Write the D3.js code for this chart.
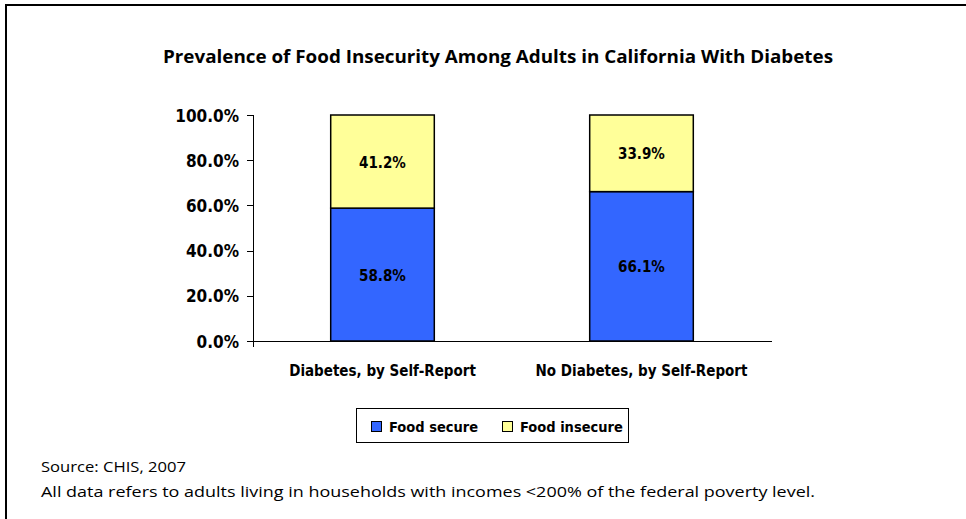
<!DOCTYPE html>
<html lang="en">
<head>
<meta charset="utf-8">
<title>Food Insecurity Among Adults With Diabetes</title>
<script src="https://cdn.jsdelivr.net/npm/d3@7"></script>
<style>
  body { margin: 0; background: #fff; }
  .axis path, .axis line { stroke: #000; stroke-width: 1px; shape-rendering: crispEdges; }
  .axis text { font-family: "DejaVu Sans Condensed", "DejaVu Sans", sans-serif; font-stretch: condensed; font-weight: bold; font-size: 17px; fill: #000; }
  .bold { font-family: "DejaVu Sans Condensed", "DejaVu Sans", sans-serif; font-stretch: condensed; font-weight: bold; fill: #000; }
  .note { font-family: "Open Sans", sans-serif; font-size: 14px; fill: #000; }
</style>
</head>
<body>
<script>
// data
var categories = ["Diabetes, by Self-Report", "No Diabetes, by Self-Report"];
var secure = [0.588, 0.661];
var insecure = [0.412, 0.339];
var seriesNames = ["Food secure", "Food insecure"];
var yTicks = [0, 0.2, 0.4, 0.6, 0.8, 1.0];

var w = 966, h = 519;
var colors = ["#3366ff", "#ffff99"];

var svg = d3.select("body").append("svg")
  .attr("width", w)
  .attr("height", h);

// outer frame (runs off right/bottom like the original)
svg.append("rect")
  .attr("x", 6).attr("y", 5)
  .attr("width", 1000).attr("height", 600)
  .attr("fill", "none")
  .attr("stroke", "#000")
  .attr("stroke-width", 2);

svg.append("text")
  .attr("x", 498).attr("y", 63)
  .attr("text-anchor", "middle")
  .attr("textLength", 670)
  .attr("lengthAdjust", "spacingAndGlyphs")
  .style("font-family", "'Open Sans', sans-serif")
  .style("font-weight", "bold")
  .style("font-size", "18px")
  .text("Prevalence of Food Insecurity Among Adults in California With Diabetes");

var plotLeft = 253, plotRight = 771, plotTop = 115, plotBottom = 341;

var x = d3.scaleBand()
  .domain(categories)
  .range([plotLeft, plotRight])
  .paddingInner(0.6)
  .paddingOuter(0.3);

var y = d3.scaleLinear()
  .domain([0, 1])
  .range([plotBottom, plotTop]);

var stackData = categories.map(function(c, i) {
  return { cat: c, secure: secure[i], insecure: insecure[i] };
});
var stack = d3.stack().keys(["secure", "insecure"]);
var layers = stack(stackData);

var bars = svg.append("g");
layers.forEach(function(layer, li) {
  bars.selectAll(".s" + li)
    .data(layer)
    .enter()
    .append("rect")
    .attr("x", function(d) { return x(d.data.cat); })
    .attr("y", function(d) { return y(d[1]); })
    .attr("width", x.bandwidth())
    .attr("height", function(d) { return y(d[0]) - y(d[1]); })
    .attr("fill", colors[li])
    .attr("stroke", "#000")
    .attr("stroke-width", 1.5);

  bars.selectAll(".l" + li)
    .data(layer)
    .enter()
    .append("text")
    .attr("class", "bold")
    .attr("x", function(d) { return x(d.data.cat) + x.bandwidth() / 2; })
    .attr("y", function(d) { return (y(d[0]) + y(d[1])) / 2 + 6; })
    .attr("text-anchor", "middle")
    .style("font-size", "15px")
    .text(function(d) { return d3.format(".1%")(d[1] - d[0]); });
});

// y axis
var yAxis = d3.axisLeft(y)
  .tickValues(yTicks)
  .tickFormat(d3.format(".1%"))
  .tickSize(6)
  .tickSizeOuter(0);
var gy = svg.append("g")
  .attr("class", "axis")
  .attr("transform", "translate(" + plotLeft + ",0)")
  .call(yAxis);
gy.selectAll("text").attr("x", -14).attr("dy", "0.36em");
gy.select(".domain").attr("d", "M0," + plotTop + "V" + (plotBottom + 6));

// x axis
var xAxis = d3.axisBottom(x).tickSize(0).tickSizeOuter(0);
var gx = svg.append("g")
  .attr("class", "axis")
  .attr("transform", "translate(0," + plotBottom + ")")
  .call(xAxis);
gx.selectAll("text").attr("y", 24).style("font-size", "15px");

// legend
var legend = svg.append("g");
legend.append("rect")
  .attr("x", 356.5).attr("y", 408.5)
  .attr("width", 272).attr("height", 34)
  .attr("fill", "#fff")
  .attr("stroke", "#000")
  .attr("stroke-width", 1);
var legX = [371, 502];
seriesNames.forEach(function(name, i) {
  legend.append("rect")
    .attr("x", legX[i] + 0.5).attr("y", 421.5)
    .attr("width", 10).attr("height", 10)
    .attr("fill", colors[i])
    .attr("stroke", "#000")
    .attr("stroke-width", 1);
  legend.append("text")
    .attr("class", "bold")
    .attr("x", legX[i] + 18).attr("y", 432)
    .style("font-size", "14.5px")
    .text(name);
});

// footnotes
svg.append("text")
  .attr("class", "note")
  .attr("x", 41).attr("y", 472)
  .attr("textLength", 145)
  .attr("lengthAdjust", "spacingAndGlyphs")
  .text("Source: CHIS, 2007");
svg.append("text")
  .attr("class", "note")
  .attr("x", 41).attr("y", 497)
  .attr("textLength", 774)
  .attr("lengthAdjust", "spacingAndGlyphs")
  .text("All data refers to adults living in households with incomes <200% of the federal poverty level.");
</script>
</body>
</html>
